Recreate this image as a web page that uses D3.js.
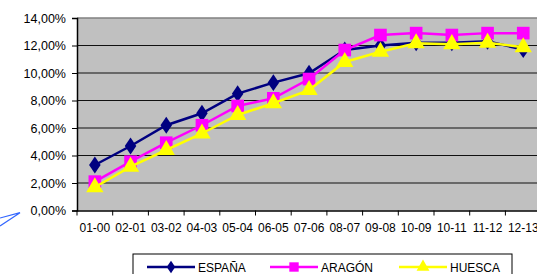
<!DOCTYPE html>
<html>
<head>
<meta charset="utf-8">
<script src="https://cdn.jsdelivr.net/npm/d3@7"></script>
<style>
  body { margin: 0; background: #fff; }
  svg { display: block; font-family: "Liberation Sans", Arial, sans-serif; }
</style>
</head>
<body>
<div id="chart"></div>
<script>
// Chart data
const categories = ["01-00", "02-01", "03-02", "04-03", "05-04", "06-05", "07-06",
                    "08-07", "09-08", "10-09", "10-11", "11-12", "12-13"];
const espana = [3.31, 4.69, 6.2, 7.07, 8.5, 9.3, 9.98, 11.67, 12.0, 12.2, 12.2, 12.3, 11.7];
const aragon = [2.1, 3.55, 4.93, 6.2, 7.6, 8.16, 9.56, 11.67, 12.76, 12.9, 12.76, 12.9, 12.9];
const huesca = [1.69, 3.19, 4.4, 5.6, 6.95, 7.8, 8.76, 10.8, 11.55, 12.16, 12.1, 12.2, 11.87];
const yTicks = [0, 2, 4, 6, 8, 10, 12, 14];

const w = 537;
const h = 274;
const plotLeft = 77, plotTop = 18, plotBottom = 210.5;
const plotRight = plotLeft + 13 * 35.7;

const svg = d3.select("#chart").append("svg")
    .attr("width", w)
    .attr("height", h);

const x = d3.scaleBand().domain(categories).range([plotLeft, plotRight]);
const y = d3.scaleLinear().domain([0, 14]).range([plotBottom, plotTop]);

// plot background
svg.append("rect")
    .attr("x", plotLeft).attr("y", plotTop)
    .attr("width", plotRight - plotLeft).attr("height", plotBottom - plotTop)
    .attr("fill", "#c0c0c0");

// top border
svg.append("line")
    .attr("x1", plotLeft).attr("x2", plotRight)
    .attr("y1", plotTop).attr("y2", plotTop)
    .attr("stroke", "#808080").attr("stroke-width", 1.5);

// gridlines
svg.append("g").selectAll("line")
    .data(yTicks.filter(d => d > 0 && d < 14))
    .join("line")
    .attr("x1", plotLeft).attr("x2", plotRight)
    .attr("y1", d => y(d)).attr("y2", d => y(d))
    .attr("stroke", "#111").attr("stroke-width", 1.2);

// y axis
const yAxis = d3.axisLeft(y)
    .tickValues(yTicks)
    .tickSize(5)
    .tickPadding(6)
    .tickFormat(d => d3.format(".2f")(d).replace(".", ",") + "%");

svg.append("g")
    .attr("transform", `translate(${plotLeft},0)`)
    .call(yAxis)
    .call(g => g.select(".domain").attr("stroke", "#000").attr("stroke-width", 1.5))
    .call(g => g.selectAll(".tick line").attr("stroke", "#000"))
    .call(g => g.selectAll("text").attr("font-size", "12.5px").attr("fill", "#000")
        .attr("font-family", "Liberation Sans, Arial, sans-serif"));

// x axis: ticks between categories
const xAxis = d3.axisBottom(x).tickSize(0).tickPadding(13);
const gx = svg.append("g")
    .attr("transform", `translate(0,${plotBottom})`)
    .call(xAxis)
    .call(g => g.select(".domain").attr("stroke", "#000").attr("stroke-width", 1.5))
    .call(g => g.selectAll("text").attr("font-size", "12px").attr("fill", "#000")
        .attr("font-family", "Liberation Sans, Arial, sans-serif"));

gx.selectAll("line.sep")
    .data(categories)
    .join("line")
    .attr("class", "sep")
    .attr("x1", d => x(d)).attr("x2", d => x(d))
    .attr("y1", 0).attr("y2", 5)
    .attr("stroke", "#000");

const cx = d => x(d) + x.bandwidth() / 2;

const series = [
    { name: "ESPAÑA", values: espana, color: "#000080", symbol: d3.symbolDiamond, size: 115 },
    { name: "ARAGÓN", values: aragon, color: "#ff00ff", symbol: d3.symbolSquare, size: 160 },
    { name: "HUESCA", values: huesca, color: "#ffff00", symbol: d3.symbolTriangle, size: 130 }
];

const line = d3.line()
    .x((d, i) => cx(categories[i]))
    .y(d => y(d));

series.forEach(s => {
    svg.append("path")
        .datum(s.values)
        .attr("d", line)
        .attr("fill", "none")
        .attr("stroke", s.color)
        .attr("stroke-width", 2.5);

    svg.append("g").selectAll("path")
        .data(s.values)
        .join("path")
        .attr("transform", (d, i) => {
            const sc = s.symbol === d3.symbolDiamond ? "scale(1,0.85)" : "";
            return `translate(${cx(categories[i])},${y(d)}) ${sc}`;
        })
        .attr("d", d3.symbol().type(s.symbol).size(s.size))
        .attr("fill", s.color);
});

// legend
svg.append("rect")
    .attr("x", 133).attr("y", 254)
    .attr("width", 379).attr("height", 30)
    .attr("fill", "#fff")
    .attr("stroke", "#000").attr("stroke-width", 1);

const legendX = [147, 270, 399];
series.forEach((s, i) => {
    const g = svg.append("g").attr("transform", `translate(${legendX[i]},267)`);
    g.append("line")
        .attr("x1", 0).attr("x2", 48)
        .attr("stroke", s.color).attr("stroke-width", 2.5);
    g.append("path")
        .attr("transform", s.symbol === d3.symbolDiamond ? "translate(24,0) scale(1,0.85)" : "translate(24,0)")
        .attr("d", d3.symbol().type(s.symbol).size(s.size * 0.55))
        .attr("fill", s.color);
    g.append("text")
        .attr("x", 51).attr("y", 4.5)
        .attr("font-size", "12px")
        .text(s.name);
});

// small stray blue stroke at left
svg.append("path")
    .attr("d", "M0,218 L20,212.7 L0,226")
    .attr("fill", "none")
    .attr("stroke", "#3366ff")
    .attr("stroke-width", 1.2);
</script>
</body>
</html>
